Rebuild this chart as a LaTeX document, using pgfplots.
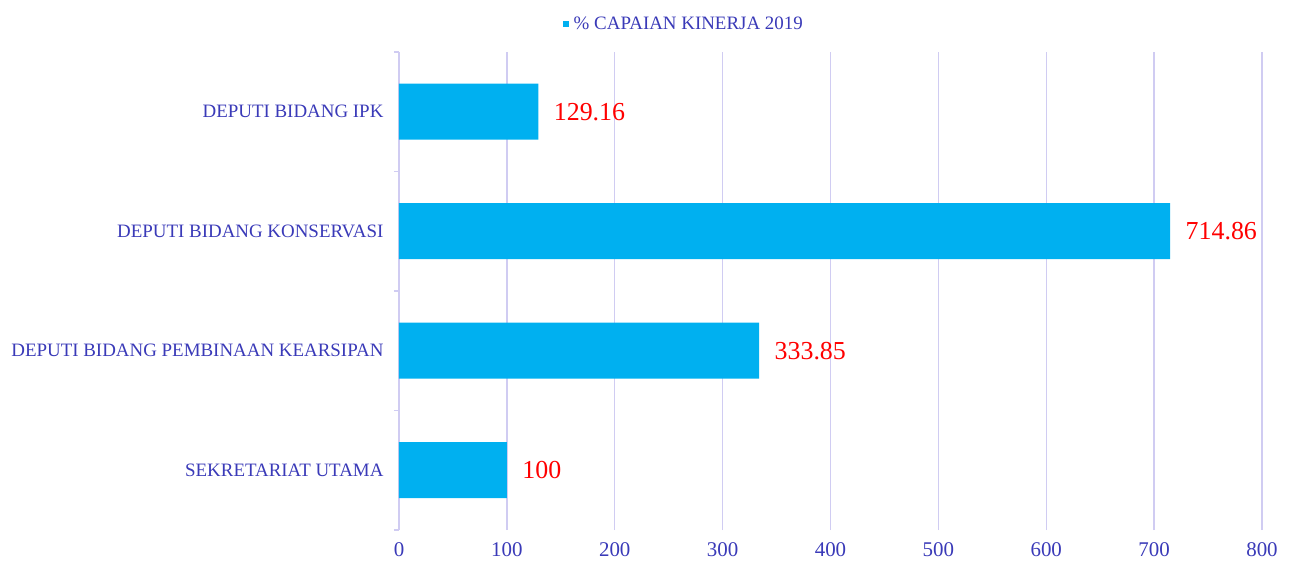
\documentclass[border=0pt]{standalone}
\usepackage{pgfplots}
\pgfplotsset{compat=1.18}
\usepackage{fontspec}
\setmainfont{Liberation Serif}
\definecolor{barblue}{HTML}{00B0F0}
\definecolor{txtblue}{HTML}{3A3AB8}
\definecolor{gridc}{HTML}{D0CCF2}
\definecolor{valred}{HTML}{FF0000}
\begin{document}
\begin{tikzpicture}
\path (-399bp,-32bp) rectangle (894bp,530bp);
\begin{axis}[
  at={(0,0)}, anchor=south west,
  scale only axis, width=863bp, height=478bp,
  xmin=0, xmax=800, ymin=-0.5, ymax=3.5,
  xtick={0,100,...,800},
  xmajorgrids, grid style={gridc, line width=1.3pt},
  axis x line*=bottom,
  x axis line style={draw=none},
  major x tick style={draw=none},
  xticklabel style={font=\fontsize{21}{24}\selectfont, text=txtblue, yshift=-4bp},
  ytick={-0.5,0.5,1.5,2.5,3.5},
  yticklabels={},
  y tick style={draw=gridc, line width=1.3pt},
  tick align=outside, major tick length=5bp,
  extra y ticks={0,1,2,3},
  extra y tick labels={SEKRETARIAT UTAMA, DEPUTI BIDANG PEMBINAAN KEARSIPAN, DEPUTI BIDANG KONSERVASI, DEPUTI BIDANG IPK},
  extra y tick style={major tick length=0pt, y tick style={draw=none}, yticklabel style={font=\fontsize{19}{22}\selectfont, text=txtblue, xshift=-12bp}},
  axis y line*=left,
  y axis line style={gridc, line width=1.3pt, -},
  /pgf/number format/assume math mode=true,
  xbar, bar width=56bp,
  nodes near coords,
  nodes near coords style={font=\fontsize{26}{30}\selectfont, text=valred, anchor=west, xshift=12bp},
  point meta=explicit symbolic,
  legend style={at={(0.33,1.035)}, anchor=south, draw=none, font=\fontsize{19}{22}\selectfont, text=txtblue, /tikz/every even column/.append style={column sep=0pt}},
]
\addplot+[fill=barblue, draw=none, legend image code/.code={\fill[barblue] (0bp,-3bp) rectangle (6bp,3bp);}] coordinates {
(100,0) [100]
(333.85,1) [333.85]
(714.86,2) [714.86]
(129.16,3) [129.16]
};
\addlegendentry{\hspace{3bp}\% CAPAIAN KINERJA 2019}
\end{axis}
\end{tikzpicture}
\end{document}
